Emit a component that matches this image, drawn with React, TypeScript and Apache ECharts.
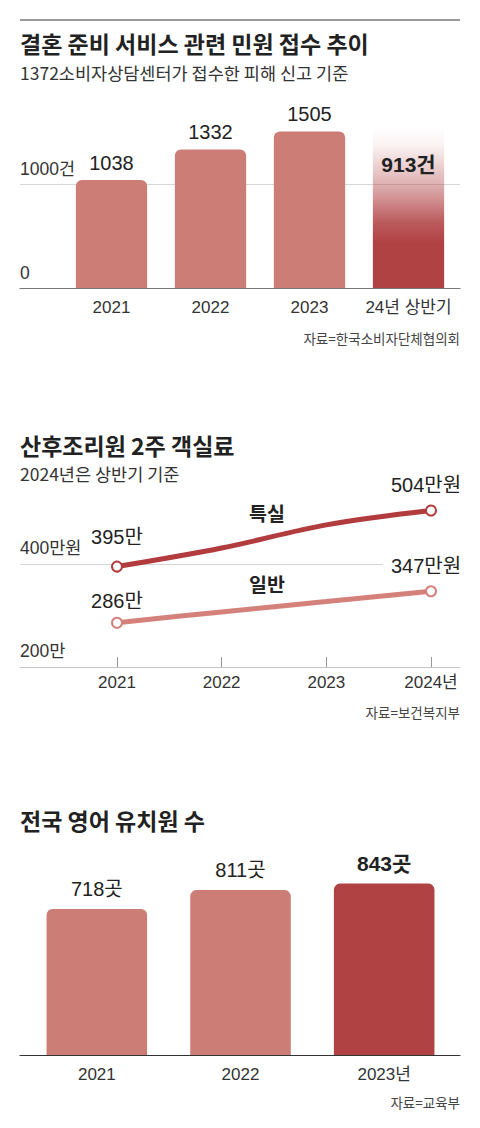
import React, { useEffect, useRef } from 'react';
import * as echarts from 'echarts';

// ---- Chart 1: 결혼 준비 서비스 관련 민원 접수 추이
const complaintYears = ['2021', '2022', '2023', '24년 상반기'];
const complaintCounts = [1038, 1332, 1505];
const halfYearCount = 913;
const halfYearBarExtent = 1550; // top of the faded half-year bar as drawn
const complaintTickLabels: Record<number, string> = { 0: '0', 1000: '1000건' };

// ---- Chart 2: 산후조리원 2주 객실료
const careYears = ['2021', '2022', '2023', '2024년'];
const premiumRoom = [395, 431, 476, 504];
const standardRoom = [286, 307, 327, 347];
const careTickLabels: Record<number, string> = { 200: '200만', 400: '400만원' };

// ---- Chart 3: 전국 영어 유치원 수
const kinderYears = ['2021', '2022', '2023년'];
const kinderCounts = [718, 811, 843];

const KR = "'Noto Sans CJK KR', 'Noto Sans', sans-serif";
const NUM = "'Liberation Sans', 'Noto Sans CJK KR', sans-serif";

const LIGHT = '#cb7d76';
const DARK = '#b14244';
const LINE_DARK = '#b23b3e';
const LINE_LIGHT = '#d4817c';

export default function App() {
  const ref = useRef<HTMLDivElement>(null);
  useEffect(() => {
    document.body.style.margin = '0';
    if (!ref.current) return;
    const chart = echarts.init(ref.current, null, { renderer: 'svg' });

    const frameX = (gridIndex: number, color: string, width = 1) => ({
      type: 'value', gridIndex, min: 0, max: 1,
      axisLine: { show: true, onZero: false, lineStyle: { color, width } },
      axisTick: { show: false }, axisLabel: { show: false }, splitLine: { show: false },
    });
    const hiddenY = (gridIndex: number, min: number, max: number) => ({
      type: 'value', gridIndex, min, max, show: false, splitLine: { show: false },
    });

    const gradient = new echarts.graphic.LinearGradient(0, 0, 0, 1, [
      { offset: 0, color: 'rgba(177,66,68,0)' },
      { offset: 0.12, color: 'rgba(177,66,68,0.07)' },
      { offset: 0.36, color: 'rgba(177,66,68,0.42)' },
      { offset: 0.6, color: 'rgba(177,66,68,0.88)' },
      { offset: 0.72, color: 'rgba(177,66,68,1)' },
      { offset: 1, color: 'rgba(177,66,68,1)' },
    ]);

    const xLabel = (margin: number) => ({
      margin, fontSize: 17, color: '#333', fontFamily: NUM, interval: 0,
    });

    const option: any = {
      animation: false,
      backgroundColor: '#fff',
      grid: [
        { left: 20, right: 20, top: 80, height: 208, outerBoundsMode: 'none' },
        { left: 62, right: 22, top: 80, height: 208, outerBoundsMode: 'none' },
        { left: 20, right: 20, top: 461, height: 206, outerBoundsMode: 'none' },
        { left: 20, right: 97, top: 461, height: 206, outerBoundsMode: 'none' },
        { left: 117, right: 49, top: 461, height: 206, outerBoundsMode: 'none' },
        { left: 20, right: 20, top: 851.7, height: 203.3, outerBoundsMode: 'none' },
        { left: 25, right: 24, top: 851.7, height: 203.3, outerBoundsMode: 'none' },
      ],
      xAxis: [
        frameX(0, '#777', 1.2),
        {
          type: 'category', gridIndex: 1, data: complaintYears,
          axisLine: { show: false }, axisTick: { show: false },
          axisLabel: xLabel(11),
        },
        frameX(2, '#c4c4c4', 1),
        { type: 'value', gridIndex: 3, min: 0, max: 1, show: false, splitLine: { show: false } },
        {
          type: 'category', gridIndex: 4, data: careYears, boundaryGap: false,
          axisLine: { show: false },
          axisTick: { show: true, inside: true, length: 10, interval: 0, lineStyle: { color: '#999', width: 1 } },
          axisLabel: xLabel(7),
        },
        frameX(5, '#333', 1.2),
        {
          type: 'category', gridIndex: 6, data: kinderYears,
          axisLine: { show: false }, axisTick: { show: false },
          axisLabel: xLabel(11),
        },
      ],
      yAxis: [
        {
          type: 'value', gridIndex: 0, min: 0, max: 2000, interval: 1000,
          axisLine: { show: false }, axisTick: { show: false },
          splitLine: { show: true, lineStyle: { color: ['rgba(0,0,0,0)', '#d6d6d6', 'rgba(0,0,0,0)'], width: 1.2 } },
          axisLabel: {
            inside: true, margin: 0, align: 'left', verticalAlign: 'bottom', padding: [0, 0, 6, 0],
            fontSize: 17.5, color: '#333', fontFamily: NUM,
            formatter: (v: number) => complaintTickLabels[v] ?? '',
          },
        },
        hiddenY(1, 0, 2000),
        hiddenY(2, 200, 600),
        {
          type: 'value', gridIndex: 3, min: 200, max: 600, interval: 200,
          axisLine: { show: false }, axisTick: { show: false },
          splitLine: { show: true, lineStyle: { color: ['rgba(0,0,0,0)', '#d6d6d6', 'rgba(0,0,0,0)'], width: 1.2 } },
          axisLabel: {
            inside: true, margin: 0, align: 'left', verticalAlign: 'bottom', padding: [0, 0, 7, 0],
            fontSize: 17.5, color: '#333', fontFamily: NUM,
            formatter: (v: number) => careTickLabels[v] ?? '',
          },
        },
        hiddenY(4, 200, 600),
        hiddenY(5, 0, 1000),
        hiddenY(6, 0, 1000),
      ],
      series: [
        {
          type: 'bar', xAxisIndex: 1, yAxisIndex: 1, barCategoryGap: '28%',
          data: [
            ...complaintCounts.map((v) => ({ value: v })),
            {
              value: halfYearBarExtent,
              itemStyle: { color: gradient, borderRadius: 0 },
              label: {
                position: 'insideTop', distance: 27, fontWeight: 'bold', fontSize: 21,
                color: '#222', formatter: `${halfYearCount}건`,
              },
            },
          ],
          itemStyle: { color: LIGHT, borderRadius: [6, 6, 0, 0] },
          label: { show: true, position: 'top', distance: 7, fontSize: 20, color: '#222', fontFamily: NUM },
        },
        {
          type: 'line', name: '특실', xAxisIndex: 4, yAxisIndex: 4, smooth: 0.35,
          symbol: 'circle', symbolSize: 10, z: 5,
          lineStyle: { color: LINE_DARK, width: 5 },
          itemStyle: { color: '#fff', borderColor: LINE_DARK, borderWidth: 2 },
          data: premiumRoom.map((v, i) => {
            if (i === 0) return { value: v, label: { show: true, position: 'top', distance: 14, formatter: `${v}만` } };
            if (i === premiumRoom.length - 1) return { value: v, label: { show: true, position: 'top', distance: 9, offset: [-5, 0], formatter: `${v}만원` } };
            return { value: v, symbol: 'none' };
          }),
          label: { fontSize: 20, color: '#222', fontFamily: NUM },
        },
        {
          type: 'line', name: '일반', xAxisIndex: 4, yAxisIndex: 4, smooth: 0.35,
          symbol: 'circle', symbolSize: 10, z: 4,
          lineStyle: { color: LINE_LIGHT, width: 5 },
          itemStyle: { color: '#fff', borderColor: LINE_LIGHT, borderWidth: 2 },
          data: standardRoom.map((v, i) => {
            if (i === 0) return { value: v, label: { show: true, position: 'top', distance: 6, formatter: `${v}만` } };
            if (i === standardRoom.length - 1) return { value: v, label: { show: true, position: 'top', distance: 9, offset: [-5, 0], formatter: `${v}만원` } };
            return { value: v, symbol: 'none' };
          }),
          label: { fontSize: 20, color: '#222', fontFamily: NUM },
        },
        {
          type: 'bar', xAxisIndex: 6, yAxisIndex: 6, barCategoryGap: '30%',
          data: kinderCounts.map((v, i) =>
            i === kinderCounts.length - 1
              ? { value: v, itemStyle: { color: DARK }, label: { fontWeight: 'bold', fontSize: 21 } }
              : { value: v }
          ),
          itemStyle: { color: LIGHT, borderRadius: [6, 6, 0, 0] },
          label: {
            show: true, position: 'top', distance: 10, fontSize: 20, color: '#222', fontFamily: NUM,
            formatter: (p: any) => `${p.value}곳`,
          },
        },
      ],
      graphic: [
        { type: 'line', shape: { x1: 20, y1: 20, x2: 460, y2: 20 }, style: { stroke: '#9a9a9a', lineWidth: 2 } },
        { type: 'text', x: 20, y: 43, style: { text: '결혼 준비 서비스 관련 민원 접수 추이', fontSize: 23, fontWeight: 'bold', fontFamily: KR, fill: '#222', verticalAlign: 'middle' } },
        { type: 'text', x: 20, y: 72, style: { text: '1372소비자상담센터가 접수한 피해 신고 기준', fontSize: 17.5, fontFamily: KR, fill: '#333', verticalAlign: 'middle' } },
        { type: 'text', x: 460, y: 338, style: { text: '자료=한국소비자단체협의회', fontSize: 13.5, fontFamily: KR, fill: '#444', align: 'right', verticalAlign: 'middle' } },

        { type: 'text', x: 20, y: 445, style: { text: '산후조리원 2주 객실료', fontSize: 23, fontWeight: 'bold', fontFamily: KR, fill: '#222', verticalAlign: 'middle' } },
        { type: 'text', x: 20, y: 473, style: { text: '2024년은 상반기 기준', fontSize: 17.5, fontFamily: KR, fill: '#333', verticalAlign: 'middle' } },
        { type: 'text', x: 267, y: 512, style: { text: '특실', fontSize: 19.5, fontWeight: 'bold', fontFamily: KR, fill: '#222', align: 'center', verticalAlign: 'middle' } },
        { type: 'text', x: 267, y: 583, style: { text: '일반', fontSize: 19.5, fontWeight: 'bold', fontFamily: KR, fill: '#222', align: 'center', verticalAlign: 'middle' } },
        { type: 'text', x: 460, y: 712, style: { text: '자료=보건복지부', fontSize: 13.5, fontFamily: KR, fill: '#444', align: 'right', verticalAlign: 'middle' } },

        { type: 'text', x: 20, y: 820, style: { text: '전국 영어 유치원 수', fontSize: 23, fontWeight: 'bold', fontFamily: KR, fill: '#222', verticalAlign: 'middle' } },
        { type: 'text', x: 460, y: 1102, style: { text: '자료=교육부', fontSize: 13.5, fontFamily: KR, fill: '#444', align: 'right', verticalAlign: 'middle' } },
      ],
    };

    chart.setOption(option);
    return () => chart.dispose();
  }, []);

  return <div ref={ref} style={{ width: 480, height: 1128 }} />;
}
